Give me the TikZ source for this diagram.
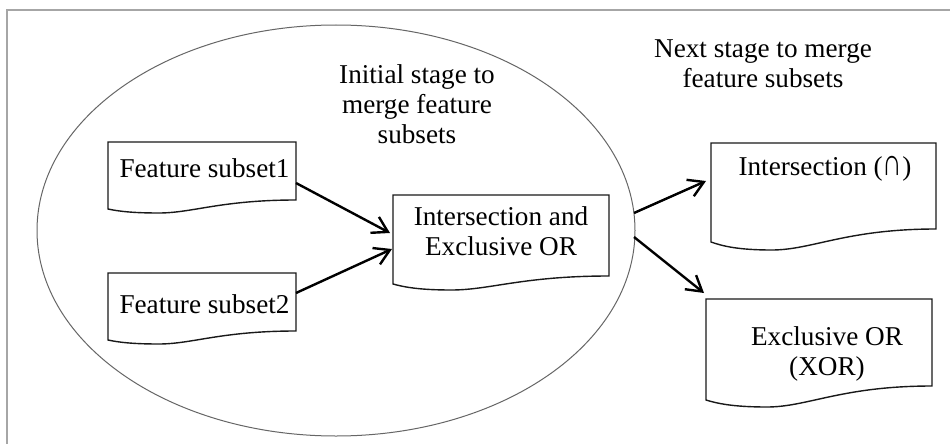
\documentclass[tikz,border=0pt]{standalone}
\usepackage{graphicx}
\usepackage{fontspec}
\setmainfont{Liberation Serif}
\usetikzlibrary{arrows.meta,calc}
\newcommand\docshape[3]{%
  \draw[docline] ($(#1.south west)+(0pt,#2pt)$) -- (#1.north west) -- (#1.north east) -- ($(#1.south east)+(0pt,#3pt)$)
   .. controls ($(#1.south west)!0.6!(#1.south east)+(0pt,#3pt)$) and ($(#1.south west)!0.45!(#1.south east)$) .. ($(#1.south west)!0.27!(#1.south east)$)
   .. controls ($(#1.south west)!0.12!(#1.south east)$) and ($(#1.south west)!0.05!(#1.south east)+(0pt,0.5*#2pt)$) .. ($(#1.south west)+(0pt,#2pt)$) -- cycle;}
\begin{document}
\begin{tikzpicture}[x=1pt,y=-1pt,
  txt/.style={font=\fontsize{27.2}{30}\selectfont, inner sep=0pt, align=center, anchor=base},
  box/.style={draw=none, inner sep=0pt, outer sep=0pt},
  docline/.style={draw=black!90, line width=1.4pt, line join=miter},
  conn/.style={line width=2.4pt, -{Straight Barb[length=15pt,width=18pt]}}]
\useasboundingbox (0,0) rectangle (950,444);
\fill[white] (0,0) rectangle (950,444);
\draw[gray!70, line width=1.5pt] (7,444) -- (7,10) -- (950,10);
\draw[gray!80!black, line width=1pt] (336,230.5) ellipse [x radius=299pt, y radius=205.5pt];
% boxes
\node[box, minimum width=188pt, minimum height=71pt] (fs1) at (202,177.5) {};
\node[box, minimum width=188pt, minimum height=71pt] (fs2) at (202,308.5) {};
\node[box, minimum width=216pt, minimum height=95pt] (mid) at (501,242.5) {};
\node[box, minimum width=225pt, minimum height=107pt] (int) at (823.5,196.5) {};
\node[box, minimum width=226pt, minimum height=108pt] (xor) at (819,353) {};
\docshape{fs1}{4}{13}
\docshape{fs2}{4}{13}
\docshape{mid}{6}{14}
\docshape{int}{8}{21}
\docshape{xor}{7}{21}
% texts (multi-line nodes: base = last line)
\node[txt] (fs1t) at (204.5,177) {Feature subset1};
\node[txt] (fs2t) at (204.5,313) {Feature subset2};
\node[txt] (midt) at (501,255) {Intersection and\\Exclusive OR};
\node[txt] (intt) at (825,175) {Intersection (\scalebox{1}[1.4]{∩})};
\node[txt] (xort) at (827,375) {Exclusive OR\\(XOR)};
\node[txt] (init) at (417,143) {Initial stage to\\merge feature\\subsets};
\node[txt] (next) at (763,87) {Next stage to merge\\feature subsets};
% connectors
\draw[conn] ([yshift=-5.5pt]fs1.east) -- ([xshift=-3pt,yshift=9.5pt]mid.west);
\draw[conn] ([yshift=15.5pt]fs2.east) -- ([xshift=-1pt,yshift=-6.5pt]mid.west);
\draw[conn] ([xshift=25pt,yshift=29.5pt]mid.east) -- ([xshift=-5pt,yshift=15.5pt]int.west);
\draw[conn] ([xshift=25pt,yshift=5.5pt]mid.east) -- ([xshift=-2pt,yshift=6pt]xor.north west);
\end{tikzpicture}
\end{document}
